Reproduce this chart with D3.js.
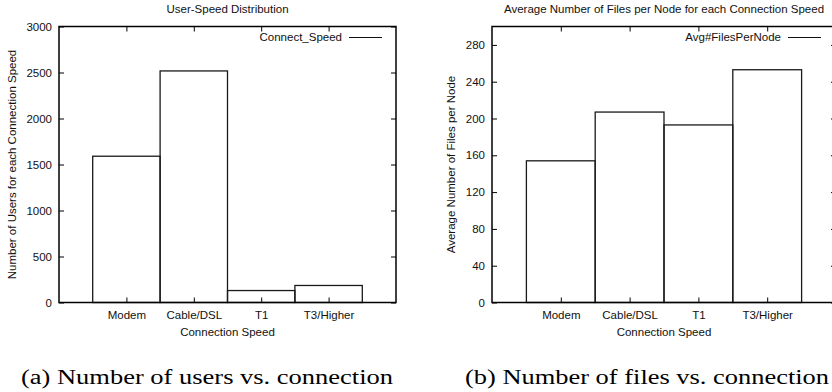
<!DOCTYPE html>
<html><head><meta charset="utf-8">
<script src="https://cdn.jsdelivr.net/npm/d3@7"></script>
<style>body{margin:0;background:#fff}svg{display:block}</style>
</head><body>
<script>
const categories = ["Modem", "Cable/DSL", "T1", "T3/Higher"];
const usersPerSpeed = [1590, 2517, 130, 185];
const filesPerNode = [154, 207, 193, 253];
const usersTicks = [0, 500, 1000, 1500, 2000, 2500, 3000];
const filesTicks = [0, 40, 80, 120, 160, 200, 240, 280];

const W = 832, H = 392;
const svg = d3.select("body").append("svg").attr("width", W).attr("height", H);
const sans = "'Liberation Sans', Arial, Helvetica, sans-serif";
const serif = "'Liberation Serif', 'DejaVu Serif', serif";

function panel(o) {
  const g = svg.append("g");
  const x = d3.scaleLinear().domain([0, categories.length + 1]).range([o.x0, o.x1]);
  const y = d3.scaleLinear().domain(o.yDomain).range([o.y1, o.y0]);
  const tl = 5;
  g.selectAll("rect.bar").data(o.values).enter().append("rect")
    .attr("x", (d, i) => x(i + 0.5)).attr("width", (d, i) => x(i + 1.5) - x(i + 0.5))
    .attr("y", d => y(d)).attr("height", d => y(0) - y(d))
    .attr("fill", "none").attr("stroke", "#1a1a1a").attr("stroke-width", 1.3);
  const yl = g.append("g").attr("transform", `translate(${o.x0},0)`)
    .call(d3.axisLeft(y).tickValues(o.yTicks).tickSize(-tl).tickPadding(7).tickFormat(d3.format("d")));
  const yr = g.append("g").attr("transform", `translate(${o.x1},0)`)
    .call(d3.axisRight(y).tickValues(o.yTicks).tickSize(-tl).tickFormat(""));
  const xb = g.append("g").attr("transform", `translate(0,${o.y1})`)
    .call(d3.axisBottom(x).tickValues(categories.map((c, i) => i + 1)).tickSize(-tl).tickPadding(8)
      .tickFormat((d) => categories[d - 1]));
  const xt = g.append("g").attr("transform", `translate(0,${o.y0})`)
    .call(d3.axisTop(x).tickValues(categories.map((c, i) => i + 1)).tickSize(-tl).tickFormat(""));
  [yl, yr, xb, xt].forEach(a => {
    a.select(".domain").remove();
    a.selectAll(".tick line").attr("stroke", "#000").attr("stroke-width", 1);
    a.selectAll("text").attr("font-family", sans).attr("font-size", 11.5).attr("fill", "#111");
  });
  g.append("rect").attr("x", o.x0).attr("y", o.y0).attr("width", o.x1 - o.x0).attr("height", o.y1 - o.y0)
    .attr("fill", "none").attr("stroke", "#000").attr("stroke-width", 1.5);
  g.append("text").attr("x", (o.x0 + o.x1) / 2).attr("y", 13).attr("text-anchor", "middle")
    .attr("font-family", sans).attr("font-size", 11.5).attr("fill", "#111").text(o.title);
  g.append("text").attr("x", (o.x0 + o.x1) / 2).attr("y", 336).attr("text-anchor", "middle")
    .attr("font-family", sans).attr("font-size", 11.5).attr("fill", "#111").text("Connection Speed");
  g.append("text").attr("transform", `translate(${o.ylabX},${(o.y0 + o.y1) / 2}) rotate(-90)`)
    .attr("text-anchor", "middle").attr("font-family", sans).attr("font-size", 11.5).attr("fill", "#111").text(o.ylab);
  g.append("text").attr("x", o.legX).attr("y", 41).attr("text-anchor", "end")
    .attr("font-family", sans).attr("font-size", 11.5).attr("fill", "#111").text(o.legend);
  g.append("line").attr("x1", o.legX + 7).attr("x2", o.legX + 40).attr("y1", 37.5).attr("y2", 37.5)
    .attr("stroke", "#111").attr("stroke-width", 1.2);
  g.append("text").attr("x", o.capX).attr("y", 384).attr("font-family", serif).attr("font-size", 20.5)
    .attr("fill", "#000").attr("textLength", o.capW).attr("lengthAdjust", "spacingAndGlyphs").text(o.caption);
}

panel({x0: 59, x1: 396, y0: 26.5, y1: 302.5, yDomain: [0, 3000], yTicks: usersTicks, values: usersPerSpeed,
  title: "User-Speed Distribution", ylab: "Number of Users for each Connection Speed", ylabX: 16,
  legend: "Connect_Speed", legX: 342, caption: "(a) Number of users vs. connection", capX: 21, capW: 372});
panel({x0: 492, x1: 836, y0: 26.5, y1: 302.5, yDomain: [0, 300], yTicks: filesTicks, values: filesPerNode,
  title: "Average Number of Files per Node for each Connection Speed", ylab: "Average Number of Files per Node", ylabX: 455,
  legend: "Avg#FilesPerNode", legX: 781, caption: "(b) Number of files vs. connection", capX: 465, capW: 364});
</script>
</body></html>
